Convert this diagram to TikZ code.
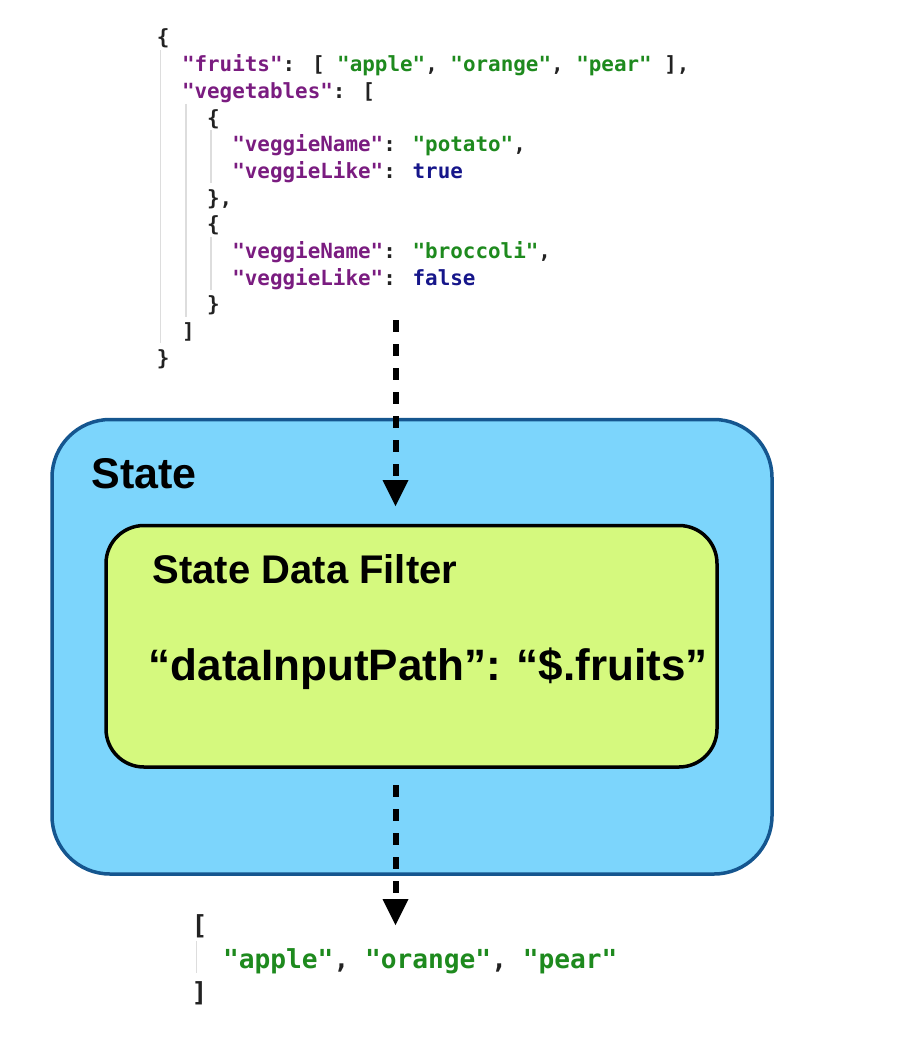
\documentclass[tikz,border=0pt]{standalone}
\usepackage{fontspec}
\setmainfont{Liberation Sans}
\newfontfamily\codefont{DejaVu Sans Mono}
\usetikzlibrary{arrows.meta}
\definecolor{jkey}{HTML}{7A1C80}
\definecolor{jstr}{HTML}{1E8A1E}
\definecolor{jbool}{HTML}{16168A}
\definecolor{jpunct}{HTML}{222222}
\definecolor{jguide}{HTML}{DDDDDD}
\definecolor{statefill}{HTML}{7CD5FC}
\definecolor{stateline}{HTML}{15568F}
\definecolor{filterfill}{HTML}{D5F97E}
\newcommand{\jk}[1]{\textcolor{jkey}{#1}}
\newcommand{\js}[1]{\textcolor{jstr}{#1}}
\newcommand{\jb}[1]{\textcolor{jbool}{#1}}
\begin{document}
\begin{tikzpicture}[x=1pt,y=-1pt,
  code/.style={anchor=base west, inner sep=0pt, text=jpunct,
    font=\codefont\bfseries\fontsize{20.9}{26.67}\selectfont},
  codebig/.style={anchor=base west, inner sep=0pt, text=jpunct,
    font=\codefont\bfseries\fontsize{26.2}{33.6}\selectfont},
  guide/.style={draw=jguide, line width=1.5pt},
  statebox/.style={draw=stateline, fill=statefill, line width=3.5pt,
    rounded corners=58pt, inner sep=0pt},
  filterbox/.style={draw=black, fill=filterfill, line width=3.5pt,
    rounded corners=38pt, inner sep=0pt},
  label/.style={anchor=base west, inner sep=0pt, font=\bfseries},
  flow/.style={line width=6pt, dash pattern=on 12pt off 12pt,
    -{Triangle[width=26pt,length=26pt,line width=0pt]}}
]
\useasboundingbox (0,0) rectangle (924,1042);

% input JSON guides
\draw[guide] (160.7,50) -- (160.7,343);
\draw[guide] (185.8,103.5) -- (185.8,316.7);
\draw[guide] (210.9,130) -- (210.9,183);
\draw[guide] (210.9,237) -- (210.9,290);

% input JSON
\node[code] (j0)  at (156.7,44.5)  {\{};
\node[code] (j1)  at (181.8,71.7)  {\jk{"fruits"}: [ \js{"apple"}, \js{"orange"}, \js{"pear"} ],};
\node[code] (j2)  at (181.8,98.3)  {\jk{"vegetables"}: [};
\node[code] (j3)  at (206.9,125)   {\{};
\node[code] (j4)  at (232.1,151.7) {\jk{"veggieName"}: \js{"potato"},};
\node[code] (j5)  at (232.1,178.3) {\jk{"veggieLike"}: \jb{true}};
\node[code] (j6)  at (206.9,205)   {\},};
\node[code] (j7)  at (206.9,231.7) {\{};
\node[code] (j8)  at (232.1,258.3) {\jk{"veggieName"}: \js{"broccoli"},};
\node[code] (j9)  at (232.1,285)   {\jk{"veggieLike"}: \jb{false}};
\node[code] (j10) at (206.9,311.7) {\}};
\node[code] (j11) at (181.8,338.3) {]};
\node[code] (j12) at (156.7,365)   {\}};

% state boxes
\node[statebox, minimum width=720pt, minimum height=454.5pt] (state) at (412,646.75) {};
\node[label, font=\bfseries\fontsize{43}{50}\selectfont] (statetitle) at (91.5,488) {State};
\node[filterbox, minimum width=611pt, minimum height=241.5pt] (filter) at (411.5,646.25) {};
\node[label, font=\bfseries\fontsize{40}{46}\selectfont] (filtertitle) at (152.5,583) {State Data Filter};
\node[label, font=\bfseries\fontsize{44}{50}\selectfont] (filterpath) at (148.5,680) {“dataInputPath”: “\$.fruits”};

% arrows
\coordinate (a1s) at (395.5,320);
\coordinate (a1e) at (395.5,506);
\coordinate (a2s) at (395.5,785);
\coordinate (a2e) at (395.5,925);
\draw[flow] (a1s) -- (a1e);
\draw[flow] (a2s) -- (a2e);

% output JSON
\draw[guide] (196.7,941) -- (196.7,973);
\node[codebig] (o0) at (191.4,934.5) {[};
\node[codebig] (o1) at (222.9,968)   {\js{"apple"}, \js{"orange"}, \js{"pear"}};
\node[codebig] (o2) at (191.4,1001.5) {]};
\end{tikzpicture}
\end{document}
